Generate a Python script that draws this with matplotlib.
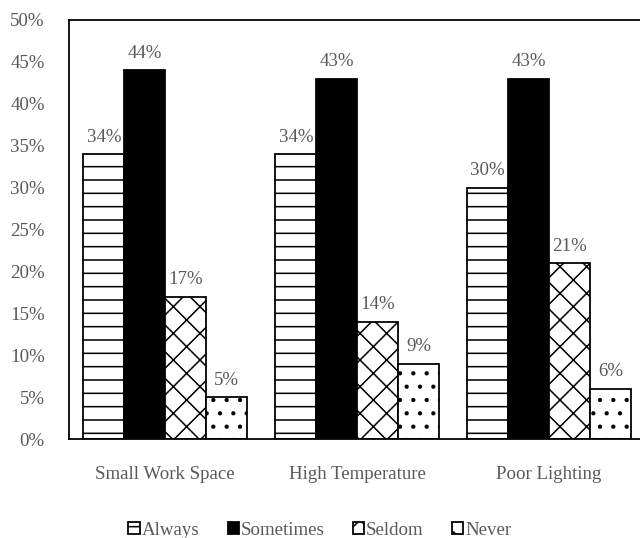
import matplotlib
matplotlib.use("Agg")
import matplotlib.pyplot as plt
import numpy as np

categories = ["Small Work Space", "High Temperature", "Poor Lighting"]
series = ["Always", "Sometimes", "Seldom", "Never"]
always = [34, 34, 30]
sometimes = [44, 43, 43]
seldom = [17, 14, 21]
never = [5, 9, 6]
yticks = [0, 5, 10, 15, 20, 25, 30, 35, 40, 45, 50]

plt.rcParams["font.family"] = ["Liberation Serif", "DejaVu Serif"]
plt.rcParams["hatch.linewidth"] = 1.4
grey = "#595959"
fs = 17

fig = plt.figure(figsize=(8, 6.725), dpi=80)
ax = fig.add_axes([0.108, 0.184, 0.9, 0.779])

x = np.arange(len(categories))
w = 0.213
styles = [
    dict(facecolor="white", hatch="-"),
    dict(facecolor="black", hatch=None),
    dict(facecolor="white", hatch="x"),
    dict(facecolor="white", hatch="."),
]
values = [always, sometimes, seldom, never]
for i, (name, vals, st) in enumerate(zip(series, values, styles)):
    pos = x + (i - 1.5) * w
    bars = ax.bar(pos, vals, w, label=name, edgecolor="black", linewidth=1.6, **st)
    for b, v in zip(bars, vals):
        ax.text(b.get_x() + b.get_width() / 2, v + 1.0, f"{v}%",
                ha="center", va="bottom", fontsize=fs, color=grey)

ax.set_xlim(-0.5, 2.5)
ax.set_ylim(0, 50)
ax.set_yticks(yticks)
ax.set_yticklabels([f"{t}%" for t in yticks])
ax.set_xticks(x)
ax.set_xticklabels(categories)
ax.tick_params(axis="both", length=0, labelsize=fs, colors=grey)
ax.tick_params(axis="x", pad=24)
ax.tick_params(axis="y", pad=22)
for s in ax.spines.values():
    s.set_linewidth(1.6)
    s.set_color("black")

fig.legend(loc="center", bbox_to_anchor=(0.5, 0.014), ncol=4, frameon=False,
           fontsize=fs, labelcolor=grey, handlelength=0.6, handleheight=0.6,
           handletextpad=0.1, columnspacing=1.5)

fig.savefig("out.png", dpi=80)
